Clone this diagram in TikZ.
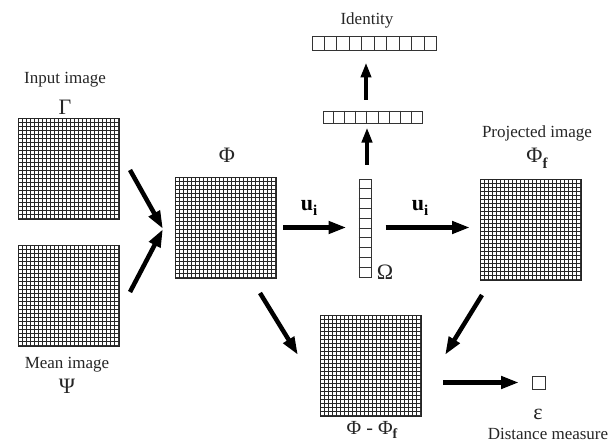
\documentclass[tikz,border=0pt]{standalone}
\usepackage{fontspec}
\setmainfont{Liberation Serif}
\usetikzlibrary{arrows.meta,calc}
\begin{document}
\begin{tikzpicture}[x=1pt,y=-1pt,
  img/.style={draw=black!80, line width=1pt, fill=white, minimum width=100pt, minimum height=100pt, inner sep=0pt},
  bigarrow/.style={line width=4.5pt, -{Triangle[length=18pt,width=12pt]}},
  vertarrow/.style={line width=3.8pt, -{Triangle[length=15pt,width=10pt]}},
  lbl/.style={font=\fontsize{17}{19}\selectfont, text=black!85, inner sep=0pt},
  greek/.style={font=\fontsize{22}{24}\selectfont, text=black!85, inner sep=0pt},
  gridline/.style={black!85, line width=1pt},
  cell/.style={draw=black!80, line width=1pt, fill=white, inner sep=0pt},
  cellline/.style={black!80, line width=1pt}
]
\useasboundingbox[fill=white] (0,0) rectangle (616,444);

% image grids
\node[img] (in) at (68.5,168.5) {};
\node[img] (mean) at (68.5,295.5) {};
\node[img] (phi) at (225.5,227.5) {};
\node[img] (proj) at (530.5,229.5) {};
\node[img] (diff) at (370.5,365.5) {};
\foreach \n in {in,mean,phi,proj,diff}{
  \foreach \i in {1,...,24}{
    \draw[gridline] ($(\n.north west)!\i/25!(\n.north east)$) -- ($(\n.south west)!\i/25!(\n.south east)$);
    \draw[gridline] ($(\n.north west)!\i/25!(\n.south west)$) -- ($(\n.north east)!\i/25!(\n.south east)$);
  }
  \draw[black!85, line width=1pt] (\n.north west) rectangle (\n.south east);
}

% vectors
\node[cell, minimum width=12pt, minimum height=98pt] (omega) at (365,228) {};
\foreach \i in {1,...,9}
  \draw[cellline] ($(omega.north west)!\i/10!(omega.south west)$) -- ($(omega.north east)!\i/10!(omega.south east)$);
\node[cell, minimum width=99pt, minimum height=12pt] (mid) at (372.5,117) {};
\foreach \i in {1,...,8}
  \draw[cellline] ($(mid.north west)!\i/9!(mid.north east)$) -- ($(mid.south west)!\i/9!(mid.south east)$);
\node[cell, minimum width=124pt, minimum height=14pt] (id) at (374,44) {};
\foreach \i in {1,...,9}
  \draw[cellline] ($(id.north west)!\i/10!(id.north east)$) -- ($(id.south west)!\i/10!(id.south east)$);
\node[cell, minimum width=13pt, minimum height=13pt] (eps) at (539,382.5) {};

% labels
\node[lbl] (tin) at (65,80) {Input image};
\node[greek] (tgamma) at (65,107) {Γ};
\node[lbl] (tmean) at (67,365) {Mean image};
\node[greek] (tpsi) at (67,386) {Ψ};
\node[greek] (tphi) at (227,155) {Φ};
\node[font=\fontsize{22}{24}\selectfont\bfseries, inner sep=0pt] (u1) at (309,208) {u\raisebox{-5pt}{\fontsize{15}{15}\selectfont i}};
\node[font=\fontsize{22}{24}\selectfont\bfseries, inner sep=0pt] (u2) at (420,208) {u\raisebox{-5pt}{\fontsize{15}{15}\selectfont i}};
\node[greek] (tomega) at (385,272) {Ω};
\node[lbl] (tid) at (367,20) {Identity};
\node[lbl] (tproj) at (537,133) {Projected image};
\node[greek] (tphif) at (537,158) {Φ\raisebox{-6pt}{\fontsize{15}{15}\selectfont\bfseries f}};
\node[greek, font=\fontsize{20}{22}\selectfont] (tdiff) at (372,430) {Φ - Φ\raisebox{-4pt}{\fontsize{14}{14}\selectfont\bfseries f}};
\node[greek] (teps) at (538,414) {ε};
\node[lbl] (tdist) at (548,434) {Distance measure};

% arrows
\coordinate (meet) at (163,229);
\coordinate (a1) at (130,170);
\coordinate (a2) at (130,292);
\draw[bigarrow] (a1) -- (meet);
\draw[bigarrow] (a2) -- (meet);
\draw[bigarrow, shorten <=7pt, shorten >=12pt] (phi.east) -- (phi.east -| omega.west);
\draw[bigarrow, shorten <=14pt, shorten >=10pt] (omega.east |- phi.east) -- (proj.west |- phi.east);
\coordinate (otop) at ($(omega.north)+(2,0)$);
\draw[vertarrow, shorten <=14pt, shorten >=4pt] (otop) -- (otop |- mid.south);
\coordinate (mtop) at ($(mid.north)+(-6.5,0)$);
\draw[vertarrow, shorten <=11pt, shorten >=11pt] (mtop) -- (mtop |- id.south);
\coordinate (b1) at (260,293);
\coordinate (b2) at (298,355);
\draw[bigarrow] (b1) -- (b2);
\coordinate (c1) at (482,295);
\coordinate (c2) at (445,355);
\draw[bigarrow] (c1) -- (c2);
\draw[bigarrow, shorten <=22pt, shorten >=13pt] (diff.east |- eps.west) -- (eps.west);
\end{tikzpicture}
\end{document}
